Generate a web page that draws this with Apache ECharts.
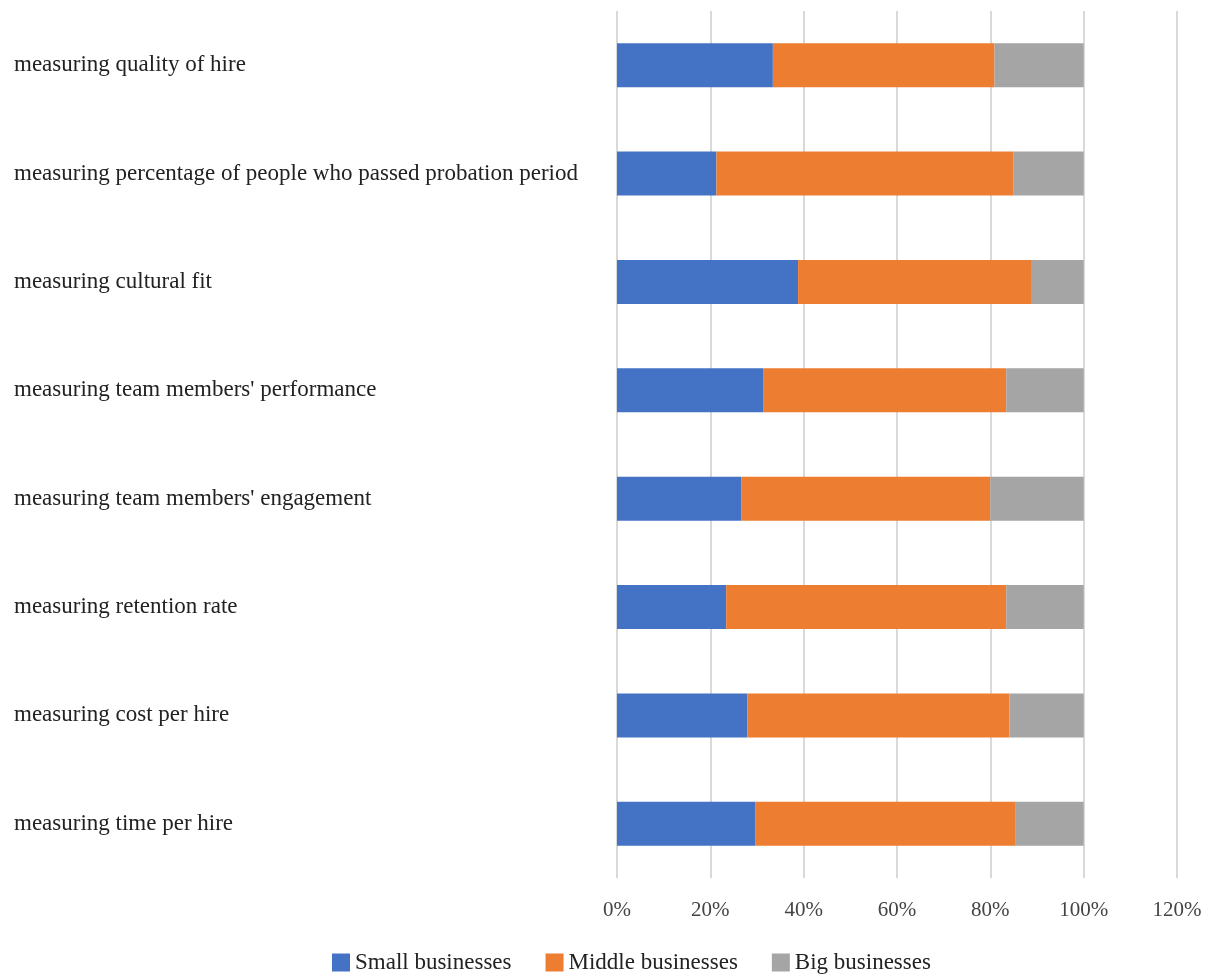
<!DOCTYPE html>
<html>
<head>
<meta charset="utf-8">
<script src="https://cdn.jsdelivr.net/npm/echarts@6/dist/echarts.min.js"></script>
<style>
html,body{margin:0;padding:0;background:#fff;}
#chart{width:1219px;height:974px;}
</style>
</head>
<body>
<div id="chart"></div>
<script>
const categories = [
  "measuring quality of hire",
  "measuring percentage of people who passed probation period",
  "measuring cultural fit",
  "measuring team members' performance",
  "measuring team members' engagement",
  "measuring retention rate",
  "measuring cost per hire",
  "measuring time per hire"
];
const seriesNames = ["Small businesses", "Middle businesses", "Big businesses"];
const smallValues  = [33.4, 21.3, 38.8, 31.3, 26.6, 23.4, 27.9, 29.6];
const middleValues = [47.5, 63.7, 50.1, 52.1, 53.4, 60.0, 56.2, 55.7];
const bigValues    = [19.1, 15.0, 11.1, 16.6, 20.0, 16.6, 15.9, 14.7];
const xTicks = [0, 20, 40, 60, 80, 100, 120];
const colors = ["#4472C4", "#ED7D31", "#A5A5A5"];

const font = "'Liberation Serif', 'Times New Roman', serif";
const chart = echarts.init(document.getElementById('chart'), null, {renderer: 'canvas'});
const dataSets = [smallValues, middleValues, bigValues];
chart.setOption({
  animation: false,
  backgroundColor: '#fff',
  textStyle: {fontFamily: font},
  legend: {
    top: 946,
    left: 327,
    itemWidth: 18,
    itemHeight: 18,
    itemGap: 34,
    icon: 'rect',
    textStyle: {fontFamily: font, fontSize: 23, color: '#222'},
    data: seriesNames
  },
  grid: {left: 617, right: 42, top: 11, bottom: 96, containLabel: false},
  xAxis: {
    type: 'value',
    min: xTicks[0],
    max: xTicks[xTicks.length - 1],
    interval: 20,
    axisLine: {show: false},
    axisTick: {show: false},
    splitLine: {lineStyle: {color: '#d9d9d9', width: 2}},
    axisLabel: {
      formatter: v => v + '%',
      fontFamily: font, fontSize: 21, color: '#444', margin: 22
    }
  },
  yAxis: {
    type: 'category',
    inverse: true,
    data: categories,
    axisLine: {show: false},
    axisTick: {show: false},
    axisLabel: {
      align: 'left',
      margin: 603,
      fontFamily: font, fontSize: 23, color: '#222'
    }
  },
  series: seriesNames.map((name, i) => ({
    name: name,
    type: 'bar',
    stack: 'total',
    barWidth: '40.6%',
    itemStyle: {color: colors[i]},
    data: dataSets[i]
  }))
});
</script>
</body>
</html>
